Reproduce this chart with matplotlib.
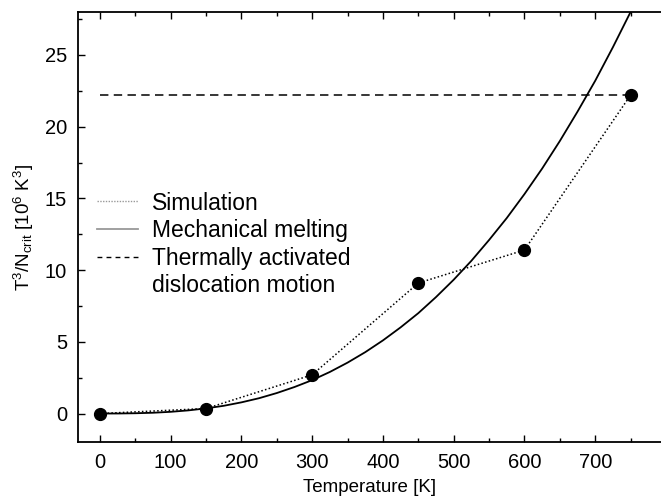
import numpy as np
import matplotlib
matplotlib.use("Agg")
import matplotlib.pyplot as plt
from matplotlib.ticker import MultipleLocator
from matplotlib.lines import Line2D

plt.rcParams['font.family'] = ['Liberation Sans', 'DejaVu Sans']
plt.rcParams['mathtext.fontset'] = 'custom'
plt.rcParams['mathtext.rm'] = 'Liberation Sans'
plt.rcParams['mathtext.it'] = 'Liberation Sans'

# Simulation data points
sim_T = [0, 150, 300, 450, 600, 750]
sim_val = [0.0, 0.35, 2.7, 9.1, 11.4, 22.2]

# Mechanical melting curve (every 25 K)
melt_T = [0, 25, 50, 75, 100, 125, 150, 175, 200, 225, 250, 275, 300, 325, 350, 375,
          400, 425, 450, 475, 500, 525, 550, 575, 600, 625, 650, 675, 700, 725, 750]
melt_val = [0.0, 0.003, 0.02, 0.055, 0.12, 0.22, 0.36, 0.54, 0.78, 1.07, 1.43, 1.85,
            2.33, 2.9, 3.55, 4.28, 5.1, 6.01, 7.0, 8.12, 9.33, 10.65, 12.1, 13.63,
            15.3, 17.08, 19.0, 21.05, 23.2, 25.54, 28.0]

# Thermally activated dislocation motion level
thermal_level = 22.2
thermal_T = [0, 750]

legend_labels = ['Simulation', 'Mechanical melting', 'Thermally activated', 'dislocation motion']

fig = plt.figure(figsize=(6.61, 4.98), dpi=100)
ax = fig.add_axes([0.118, 0.112, 0.882, 0.864])

ax.plot(sim_T, sim_val, color='black', linestyle=(0, (1, 1.5)), linewidth=1.1, zorder=2)
ax.plot(sim_T, sim_val, 'o', color='black', markersize=8.5, zorder=4)
ax.plot(melt_T, melt_val, color='black', linewidth=1.3, zorder=3)
ax.plot(thermal_T, [thermal_level, thermal_level], color='black', linestyle=(0, (5.5, 3.5)), linewidth=1.1, zorder=2)

# legend handles (the last line of the dashed entry gets an empty handle)
handles = [
    Line2D([], [], color='#999999', linestyle=(0, (1, 1)), linewidth=1.0),
    Line2D([], [], color='#999999', linewidth=1.3),
    Line2D([], [], color='black', linestyle=(0, (3.5, 3)), linewidth=1.0),
    Line2D([], [], color='none'),
]
ax.legend(handles, legend_labels, loc='upper left', bbox_to_anchor=(0.0172, 0.604),
          frameon=False, fontsize=16.5, handlelength=1.8, handletextpad=0.6,
          labelspacing=0.2, borderaxespad=0)

ax.set_xlim(-31, 793)
ax.set_ylim(-2, 28)
ax.xaxis.set_major_locator(MultipleLocator(100))
ax.xaxis.set_minor_locator(MultipleLocator(50))
ax.yaxis.set_major_locator(MultipleLocator(5))
ax.yaxis.set_minor_locator(MultipleLocator(2.5))
ax.tick_params(which='both', direction='in', top=True, right=False, labelsize=14.5, width=1.0)
ax.tick_params(which='major', length=5, pad=8)
ax.tick_params(which='minor', length=3)
ax.spines['right'].set_visible(False)
for s in ['left', 'bottom', 'top']:
    ax.spines[s].set_linewidth(1.3)

ax.set_xlabel('Temperature [K]', fontsize=13.5, labelpad=5)
ax.set_ylabel(r'T$^3$/N$_{\mathrm{crit}}$ [10$^6$ K$^3$]', fontsize=13.5, labelpad=6)

fig.savefig('out.png', dpi=100)
